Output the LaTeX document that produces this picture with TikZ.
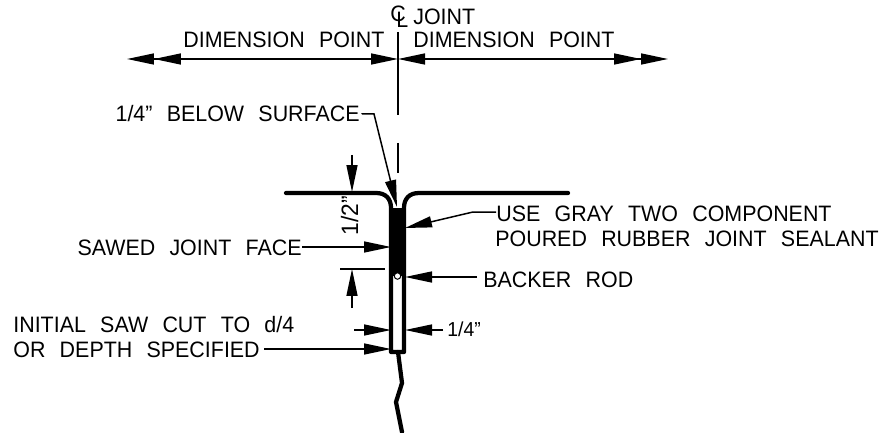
\documentclass[tikz,border=0pt]{standalone}
\usepackage{fontspec}
\setmainfont[FakeStretch=0.96,WordSpace=2.4]{Liberation Sans}
\usetikzlibrary{arrows.meta}

\tikzset{
  label/.style={inner sep=0pt, anchor=base west, font=\fontsize{12.7}{14}\selectfont},
  labelr/.style={label, anchor=base east},
  lead/.style={line width=0.03cm},
  wall/.style={line width=0.085cm, line cap=round, line join=round},
  head/.style={-{Triangle[length=0.54cm,width=0.22cm]}},
  twohead/.style={{Triangle[length=0.54cm,width=0.22cm]Triangle[length=0.54cm,width=0.22cm]}-{Triangle[length=0.54cm,width=0.22cm]}},
}

\begin{document}
\begin{tikzpicture}[x=0.02cm, y=-0.02cm]

    \useasboundingbox (0,0) rectangle (884,432);

    \node[label] (jointcl) at (390,22) {C\kern-0.19cm\raisebox{-0.12cm}{L}};
    \node[label] (joint) at (413,25) {JOINT};

    \node[label] (dimleft) at (183,48) {DIMENSION POINT};
    \node[label] (dimright) at (413,48) {DIMENSION POINT};

    \coordinate (cltop) at (398,32);
    \coordinate (clmid) at (398,59);
    \coordinate (clgap) at (398,115);
    \coordinate (clnext) at (398,143);
    \coordinate (clend) at (398,173);
    \coordinate (leftend) at (127,59);
    \coordinate (rightend) at (668,59);

    \draw[lead] (cltop) to (clgap);
    \draw[lead] (clnext) to (clend);
    \draw[lead, twohead] (leftend) to (clmid);
    \draw[lead, twohead] (rightend) to (clmid);

    % joint
    \fill (391,208) rectangle (404,276);
    \draw[wall] (286,193) -- (376,193) .. controls (386,193) and (391,199) .. (391,208) -- (391,352) -- (404,352) -- (404,208) .. controls (404,199) and (409,193) .. (419,193) -- (568,193);
    \draw[wall] (398,352) -- (402,383) -- (396,402) -- (402,432);
    \node[circle, draw, fill=white, inner sep=0pt, minimum size=0.13cm, line width=0.02cm] (rod) at (397.5,276) {};

    % labels on the left
    \node[labelr] (below) at (360,122) {1/4” BELOW SURFACE};
    \coordinate (belowbend) at (374,114);
    \coordinate (belowtip) at (397,207);
    \draw[lead, head] (below.east) ++(2,0) |- (belowbend) to (belowtip);

    \node[labelr] (sawed) at (302,255) {SAWED JOINT FACE};
    \coordinate (sawedtip) at (391,247);
    \draw[lead, head] (sawedtip -| sawed.east) to (sawedtip);

    \node[label] (initial) at (13,332) {INITIAL SAW CUT TO d/4};
    \node[label] (depth) at (13,357) {OR DEPTH SPECIFIED};
    \coordinate (depthtip) at (391,349);
    \draw[lead, head] (depthtip -| depth.east) ++(4,0) to (depthtip);

    % labels on the right
    \node[label] (use) at (496,221) {USE GRAY TWO COMPONENT};
    \node[label] (poured) at (495,246) {POURED RUBBER JOINT SEALANT};
    \coordinate (usebend) at (473,212);
    \coordinate (usetip) at (405,228);
    \draw[lead, head] (use.west |- usebend) -- (usebend) to (usetip);

    \node[label] (backer) at (483,287) {BACKER ROD};
    \coordinate (backertip) at (405,277);
    \draw[lead, head] (backertip -| backer.west) ++(-6,0) to (backertip);

    % one half inch
    \node[label, rotate=90, anchor=base, font=\fontsize{13.5}{14}\selectfont] (half) at (358,216) {1/2”};
    \coordinate (halftop) at (352,155);
    \coordinate (halftip) at (352,192);
    \coordinate (halflow) at (352,308);
    \coordinate (halfbot) at (352,269);
    \coordinate (extleft) at (340,269);
    \coordinate (extright) at (385,269);
    \draw[lead, head] (halftop) to (halftip);
    \draw[lead, head] (halflow) to (halfbot);
    \draw[lead] (extleft) to (extright);

    % one quarter inch
    \node[label, font=\fontsize{11.5}{12}\selectfont] (quarter) at (447,336) {1/4”};
    \coordinate (quarterl) at (354,330);
    \coordinate (quarterlt) at (391,330);
    \coordinate (quarterr) at (443,330);
    \coordinate (quarterrt) at (405,330);
    \draw[lead, head] (quarterl) to (quarterlt);
    \draw[lead, head] (quarterr) to (quarterrt);

\end{tikzpicture}
\end{document}
